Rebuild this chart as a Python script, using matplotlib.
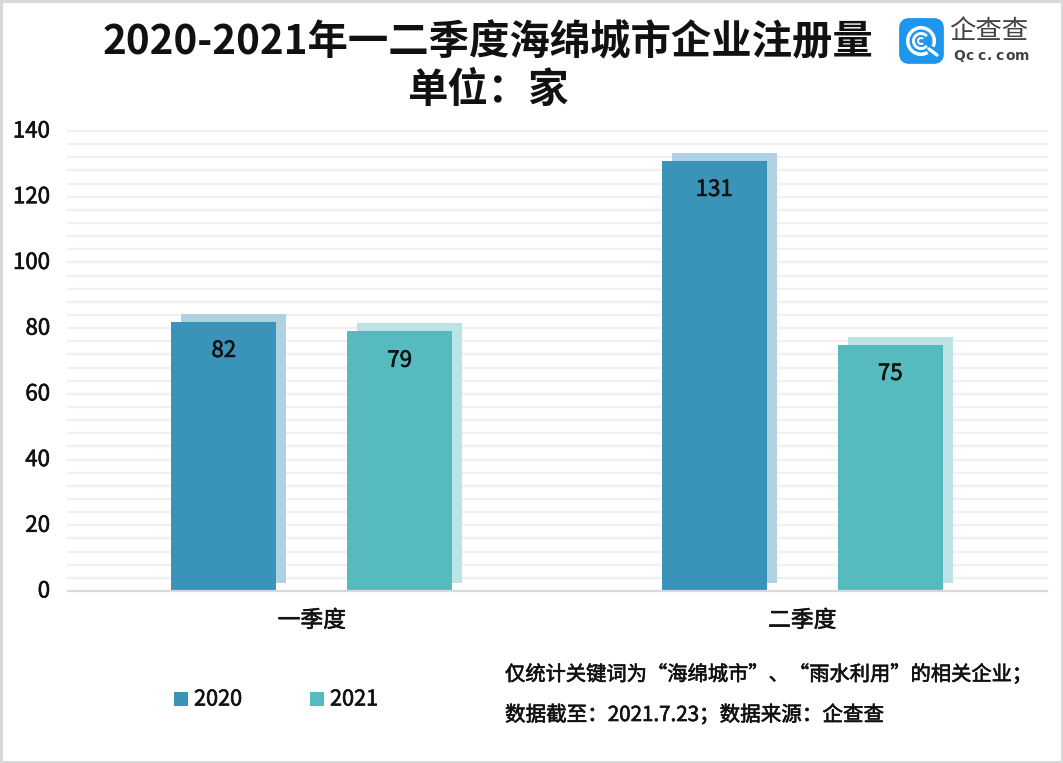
import matplotlib
matplotlib.use('Agg')
import matplotlib.pyplot as plt
import matplotlib.patheffects as pe
from matplotlib.patches import Rectangle, FancyBboxPatch, Wedge
from matplotlib.transforms import offset_copy
from numpy import arange

plt.rcParams['font.family'] = ['Noto Sans CJK SC', 'DejaVu Sans']

W, H = 1063, 763

quarters = ['一季度', '二季度']
years = ['2020', '2021']
values_2020 = [82, 131]
values_2021 = [79, 75]
colors = ['#3a94b9', '#56babf']
shadows = ['#aed2e1', '#bce3e5']

# the reference text is a bit heavier than the regular weight
medium = [pe.withStroke(linewidth=0.45, foreground='#111111')]


def px(x, y):
    # image pixels -> figure fraction
    return x / W, 1 - y / H


fig = plt.figure(figsize=(W / 100, H / 100), dpi=100)
ax = fig.add_axes([67.5 / W, 1 - 591 / H, (1046.5 - 67.5) / W, (591 - 131) / H])

# shadow bars sit a fixed distance up and to the right of the real ones
shift = offset_copy(ax.transData, fig=fig, x=10, y=8, units='dots')
x = arange(len(quarters))
width = 0.214
gap = 0.1794
for i, vals in enumerate([values_2020, values_2021]):
    pos = x - gap if i == 0 else x + gap
    ax.bar(pos, vals, width=width, color=shadows[i], transform=shift, zorder=2)
    bars = ax.bar(pos, vals, width=width, color=colors[i], zorder=3)
    for b, v in zip(bars, vals):
        ax.annotate(str(v), (b.get_x() + b.get_width() / 2, v), xytext=(0, -12.5),
                    textcoords='offset points', ha='center', va='top',
                    fontsize=16, color='#111111', zorder=4, path_effects=medium)

ax.set_xlim(-0.498, 1.498)
ax.set_ylim(0, 140)
ax.set_yticks(range(0, 141, 20))
ax.set_yticks(range(0, 141, 4), minor=True)
ax.set_xticks(x)
ax.set_xticklabels(quarters)
ax.grid(which='minor', axis='y', color='#f0f0f0', linewidth=1.6, zorder=0)
ax.grid(which='major', axis='y', color='#f0f0f0', linewidth=1.6, zorder=0)
for t in ax.yaxis.get_major_ticks() + ax.yaxis.get_minor_ticks():
    t.gridline.set_clip_on(False)
ax.set_axisbelow(True)
ax.tick_params(axis='y', which='both', length=0, labelsize=16, pad=12.5, labelcolor='#111111')
ax.tick_params(axis='x', length=0, labelsize=16.4, pad=13, labelcolor='#111111')
for t in ax.get_yticklabels() + ax.get_xticklabels():
    t.set_path_effects(medium)
for t in ax.get_yticklabels():
    t.set_va('center')
for s in ['top', 'right', 'left']:
    ax.spines[s].set_visible(False)
ax.spines['bottom'].set_color('#d9d9d9')
ax.spines['bottom'].set_linewidth(1.6)
ax.spines['bottom'].set_zorder(5)

# title
fig.text(*px(487.5, 43), '2020-2021年一二季度海绵城市企业注册量', ha='center', va='center',
         fontsize=29.1, fontweight='bold', color='#111111')
fig.text(*px(487.5, 90), '单位：家', ha='center', va='center',
         fontsize=29.1, fontweight='bold', color='#111111')

# legend
for sx, tx, c, y in zip([174, 310], [194, 330], colors, years):
    fig.add_artist(Rectangle(px(sx, 706), 14 / W, 14 / H, transform=fig.transFigure,
                             facecolor=c, edgecolor='none'))
    fig.text(*px(tx, 699.5), y, ha='left', va='center', fontsize=15.6, color='#111111',
             path_effects=medium)

# note
fig.text(*px(505, 675), '仅统计关键词为“海绵城市”、“雨水利用”的相关企业；', ha='left', va='center',
         fontsize=14.6, color='#111111', path_effects=medium)
fig.text(*px(505, 715), '数据截至：2021.7.23；数据来源：企查查', ha='left', va='center',
         fontsize=14.8, color='#111111', path_effects=medium)

# logo
logo = fig.add_axes([0, 0, 1, 1], facecolor='none')
logo.set_xlim(0, W)
logo.set_ylim(H, 0)
logo.axis('off')
logo.add_patch(FancyBboxPatch((904, 23), 35, 36, boxstyle='round,pad=0,rounding_size=5',
                              mutation_aspect=1, facecolor='#1e96ee', edgecolor='#1e96ee', linewidth=7))
logo.add_patch(Wedge((921, 41), 15, 60, 25, width=3.5, facecolor='white'))
logo.add_patch(Wedge((921, 41), 9, 40, 320, width=3, facecolor='white'))
logo.add_patch(Wedge((921, 41), 4, 45, 315, width=2, facecolor='white'))
logo.plot([929, 937], [49, 55], color='white', linewidth=2.4, solid_capstyle='round')
logo.text(989, 32, '企查查', ha='center', va='center', fontsize=19, color='#444444')
for ch, cx in zip('Qcc.com', [959, 970, 981, 989.5, 999, 1010, 1022]):
    logo.text(cx, 56, ch, ha='center', va='center', fontsize=10, color='#444444',
              fontweight='bold', fontfamily=['DejaVu Sans'])

# grey picture frame
logo.add_patch(Rectangle((0.75, 0.75), W - 1.5, H - 1.5, fill=False, edgecolor='#d9d9d9', linewidth=2.2))

plt.savefig('out.png', dpi=100)
plt.close()
